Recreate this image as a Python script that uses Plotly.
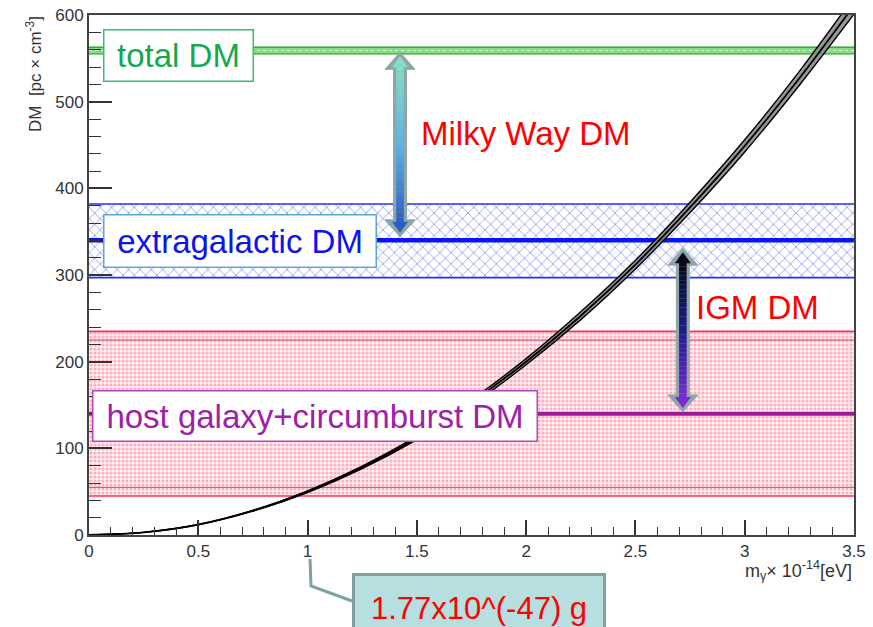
import plotly.graph_objects as go

# ---------------- data ----------------
m_gamma = [0, 0.25, 0.5, 0.75, 1.0, 1.25, 1.5, 1.75, 2.0, 2.25, 2.5, 2.75, 3.0, 3.25, 3.5]
dm_curve = [0, 3, 12, 28, 50, 78, 112, 153, 200, 253, 312, 378, 449, 527, 611]
dm_curve_hi = [0, 3, 12.2, 28.5, 51, 79.5, 114, 156, 203.5, 257.5, 317, 384, 456, 535, 621]
dm_curve_lo = [0, 3, 11.8, 27.5, 49, 76.5, 110, 150, 196.5, 248.5, 307, 372, 442, 519, 601]

x_range = [0, 3.5]
total_dm = dict(center=559, lo=555, hi=563)
extragal_dm = dict(center=340, lo=297, hi=382)
host_dm = dict(center=140, lo=45, hi=235, inner_lo=55, inner_hi=225)

x_ticks = [0, 0.5, 1, 1.5, 2, 2.5, 3, 3.5]
x_tick_labels = ["0", "0.5", "1", "1.5", "2", "2.5", "3", "3.5"]
y_ticks = [0, 100, 200, 300, 400, 500, 600]

arrow1 = dict(x=1.423, top=557, bottom=344, colors=["#86dcc4", "#5ab4e6", "#2c5cc0"])
arrow2 = dict(x=2.717, top=331, bottom=142, colors=["#08081a", "#1c1c8c", "#7a2ad0"])

# ---------------- geometry ----------------
W, H = 873, 627
ML, MR, MT, MB = 89, 19, 15, 92
PW, PH = W - ML - MR, H - MT - MB
PXX = PW / (x_range[1] - x_range[0])
PXY = PH / 600.0
FONT = "Liberation Sans, Arial, sans-serif"


def px_to_paper(px, py):
    return (px - ML) / PW, (H - MB - py) / PH


fig = go.Figure()


def band(lo, hi, **kw):
    x0, x1 = x_range
    fig.add_trace(go.Scatter(x=[x0, x1, x1, x0, x0], y=[lo, lo, hi, hi, lo], mode="lines",
                             line=dict(width=0), fill="toself", hoverinfo="skip",
                             showlegend=False, **kw))


def hline(y, color, width, dash="solid"):
    fig.add_trace(go.Scatter(x=x_range, y=[y, y], mode="lines",
                             line=dict(color=color, width=width, dash=dash),
                             hoverinfo="skip", showlegend=False))


# host band
band(host_dm["lo"], host_dm["hi"], fillcolor="rgba(255,225,232,1)",
     fillpattern=dict(shape=".", fgcolor="#ff6f8c", bgcolor="#fff0f3", size=4, solidity=0.5))
hline(host_dm["hi"], "#ff3358", 1.6)
hline(host_dm["lo"], "#ff3358", 1.6)
hline(host_dm["inner_hi"], "#b0506e", 1)
hline(host_dm["inner_lo"], "#b0506e", 1)
hline(host_dm["center"], "#9a1a9a", 4)

# extragalactic band
band(extragal_dm["lo"], extragal_dm["hi"], fillcolor="white",
     fillpattern=dict(shape="x", fgcolor="#3a4cf0", bgcolor="white", size=8, solidity=0.22))
hline(extragal_dm["hi"], "#2030ff", 1.6)
hline(extragal_dm["lo"], "#2030ff", 1.6)
hline(extragal_dm["center"], "#0a14f0", 4.5)

# total band
band(total_dm["lo"], total_dm["hi"], fillcolor="rgba(40,190,40,0.55)")
hline(total_dm["hi"], "#18a018", 1.2)
hline(total_dm["lo"], "#18a018", 1.2)
hline(total_dm["center"], "#d8f0d8", 1, dash="dot")

# curve with its narrow band
fig.add_trace(go.Scatter(x=m_gamma, y=dm_curve_lo, mode="lines", line=dict(color="black", width=1.4, shape="spline"),
                         hoverinfo="skip", showlegend=False))
fig.add_trace(go.Scatter(x=m_gamma, y=dm_curve_hi, mode="lines", line=dict(color="black", width=1.4, shape="spline"),
                         fill="tonexty", fillcolor="rgba(140,140,140,0.9)", hoverinfo="skip", showlegend=False))
fig.add_trace(go.Scatter(x=m_gamma, y=dm_curve, mode="lines", line=dict(color="black", width=1.8, shape="spline"),
                         hoverinfo="skip", showlegend=False))

# ---------------- arrows (gradient) ----------------
shapes = []


def lerp_hex(c1, c2, t):
    a = [int(c1[i:i + 2], 16) for i in (1, 3, 5)]
    b = [int(c2[i:i + 2], 16) for i in (1, 3, 5)]
    return "rgb(%d,%d,%d)" % tuple(round(a[k] + (b[k] - a[k]) * t) for k in range(3))


def grad(colors, t):
    if t <= 0.5:
        return lerp_hex(colors[0], colors[1], t / 0.5)
    return lerp_hex(colors[1], colors[2], (t - 0.5) / 0.5)


def make_arrow(a):
    xc, yt, yb, cols = a["x"], a["top"], a["bottom"], a["colors"]
    dx = lambda p: p / PXX
    dy = lambda p: p / PXY
    hw_s, hw_h, hh = 6.5, 15, 17
    pts = [(xc, yt), (xc + dx(hw_h), yt - dy(hh)), (xc + dx(hw_s), yt - dy(hh)),
           (xc + dx(hw_s), yb + dy(hh)), (xc + dx(hw_h), yb + dy(hh)), (xc, yb),
           (xc - dx(hw_h), yb + dy(hh)), (xc - dx(hw_s), yb + dy(hh)),
           (xc - dx(hw_s), yt - dy(hh)), (xc - dx(hw_h), yt - dy(hh))]
    path = "M " + " L ".join("%f,%f" % p for p in pts) + " Z"
    shapes.append(dict(type="path", path=path, xref="x", yref="y", fillcolor="#8fa6a6",
                       line=dict(color="#8fa6a6", width=1), layer="above"))
    ih_w, ih_h, off = 8, 11, 4
    for tipy, sign, col in ((yt, -1, cols[0]), (yb, 1, cols[2])):
        ty = tipy + sign * dy(off)
        by = tipy + sign * dy(off + ih_h)
        p = "M %f,%f L %f,%f L %f,%f Z" % (xc, ty, xc + dx(ih_w), by, xc - dx(ih_w), by)
        shapes.append(dict(type="path", path=p, xref="x", yref="y", fillcolor=col,
                           line=dict(width=0), layer="above"))
    n = 30
    y0 = yt - dy(off + ih_h - 1)
    y1 = yb + dy(off + ih_h - 1)
    for i in range(n):
        ya = y0 + (y1 - y0) * i / n
        yb2 = y0 + (y1 - y0) * (i + 1) / n
        shapes.append(dict(type="rect", x0=xc - dx(3.8), x1=xc + dx(3.8), y0=ya, y1=yb2,
                           xref="x", yref="y", fillcolor=grad(cols, (i + 0.5) / n),
                           line=dict(width=0), layer="above"))


make_arrow(arrow1)
make_arrow(arrow2)

# callout connector (outside plot)
c_pts = [px_to_paper(310, 559), px_to_paper(311, 586), px_to_paper(352, 601)]
shapes.append(dict(type="path", xref="paper", yref="paper",
                   path="M %f,%f L %f,%f L %f,%f" % (c_pts[0] + c_pts[1] + c_pts[2]),
                   line=dict(color="#7f9fa0", width=3)))

# ---------------- annotations ----------------
annotations = []


def box_label(text, cx, cy, w, h, color, border, size=33):
    x, y = px_to_paper(cx, cy)
    annotations.append(dict(text=text, x=x, y=y, xref="paper", yref="paper", showarrow=False,
                            xanchor="center", yanchor="middle", width=w, height=h,
                            bgcolor="white", bordercolor=border, borderwidth=1.5, borderpad=0,
                            font=dict(family=FONT, size=size, color=color)))


box_label("total DM", 178.5, 55.5, 148, 50, "#14a850", "#30c070")
box_label("extragalactic DM", 240, 241, 271, 51, "#0a14f0", "#5aa8d8")
box_label("host galaxy+circumburst DM", 315, 416, 443, 49, "#a020a8", "#b048c0")


def plain(text, cx, cy, size=33, color="#ff0000", **kw):
    x, y = px_to_paper(cx, cy)
    d = dict(text=text, x=x, y=y, xref="paper", yref="paper", showarrow=False,
             xanchor="center", yanchor="middle", font=dict(family=FONT, size=size, color=color))
    d.update(kw)
    annotations.append(d)


plain("Milky Way DM", 526, 133)
plain("IGM DM", 757, 307)

# callout box
cx, cy = px_to_paper(479, 573)
annotations.append(dict(text="1.77x10^(-47) g", x=cx, y=cy, xref="paper", yref="paper", showarrow=False,
                        xanchor="center", yanchor="top", width=248, height=64, valign="middle",
                        bgcolor="#b8dfe0", bordercolor="#7f9fa0", borderwidth=3, borderpad=0,
                        font=dict(family=FONT, size=31, color="#ff0000")))

# axis titles
xt, yt_ = px_to_paper(854, 570)
annotations.append(dict(text="m<sub>γ</sub>× 10<sup>-14</sup>[eV]", x=xt, y=yt_, xref="paper", yref="paper",
                        showarrow=False, xanchor="right", yanchor="middle",
                        font=dict(family=FONT, size=18, color="#333333")))
yx, yy = px_to_paper(34, 14)
annotations.append(dict(text="DM  [pc × cm<sup>-3</sup>]", x=yx, y=yy, xref="paper", yref="paper",
                        showarrow=False, xanchor="center", yanchor="top", textangle=-90,
                        font=dict(family=FONT, size=17, color="#333333")))

fig.update_layout(
    width=W, height=H, margin=dict(l=ML, r=MR, t=MT, b=MB, autoexpand=False),
    paper_bgcolor="white", plot_bgcolor="white",
    shapes=shapes, annotations=annotations, showlegend=False,
    font=dict(family=FONT, color="#333333"),
)
fig.update_xaxes(range=x_range, tickvals=x_ticks, ticktext=x_tick_labels, ticks="inside", ticklen=15,
                 tickwidth=1.5, tickcolor="#333", showgrid=False, zeroline=False, automargin=False,
                 showline=True, linecolor="#444", linewidth=2, mirror=True,
                 tickfont=dict(family=FONT, size=17, color="#333"),
                 minor=dict(ticks="inside", ticklen=8, dtick=0.1, tickcolor="#333", tickwidth=1.2, showgrid=False))
fig.update_yaxes(range=[0, 600], tickvals=y_ticks, ticks="inside", ticklen=23,
                 tickwidth=1.5, tickcolor="#333", showgrid=False, zeroline=False, automargin=False,
                 showline=True, linecolor="#444", linewidth=2, mirror=True,
                 tickfont=dict(family=FONT, size=17, color="#333"),
                 minor=dict(ticks="inside", ticklen=12, dtick=20, tickcolor="#333", tickwidth=1.2, showgrid=False))

fig.write_html("out.html")
